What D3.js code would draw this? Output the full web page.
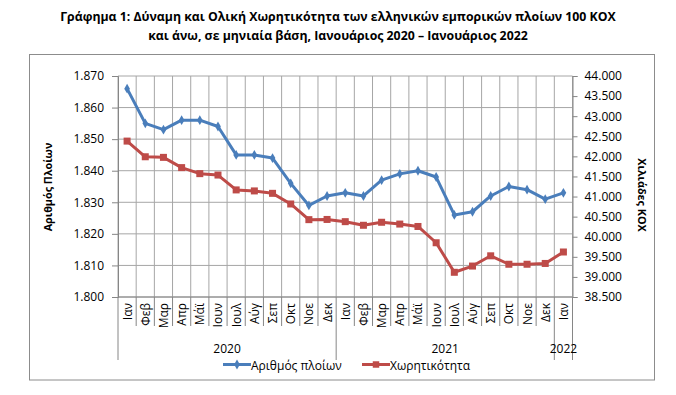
<!DOCTYPE html>
<html>
<head>
<meta charset="utf-8">
<script src="https://cdn.jsdelivr.net/npm/d3@7"></script>
<style>
  body { margin: 0; background: #fff; }
  text { font-family: "Open Sans", "Noto Sans", sans-serif; fill: #000; }
</style>
</head>
<body>
<script>
// months, two years + Jan 2022
const months = ["Ιαν","Φεβ","Μαρ","Απρ","Μάϊ","Ιουν","Ιουλ","Αύγ","Σεπ","Οκτ","Νοε","Δεκ",
                "Ιαν","Φεβ","Μαρ","Απρ","Μάϊ","Ιουν","Ιουλ","Αύγ","Σεπ","Οκτ","Νοε","Δεκ","Ιαν"]
const years = [{y:"2020", from:0, to:12}, {y:"2021", from:12, to:24}, {y:"2022", from:24, to:25}]

// Αριθμός πλοίων (left axis)
const ships = [1866,1855,1853,1856,1856,1854,1845,1845,1844,1836,1829,1832,
               1833,1832,1837,1839,1840,1838,1826,1827,1832,1835,1834,1831,1833]
// Χωρητικότητα, χιλιάδες ΚΟΧ (right axis)
const tonnage = [42380,41990,41975,41720,41570,41535,41165,41140,41080,40815,40425,40430,
                 40375,40285,40360,40315,40255,39850,39115,39270,39525,39315,39315,39335,39620]

const leftTicks = d3.range(1800, 1871, 10)
const rightTicks = d3.range(38500, 44001, 500)

const W = 676, H = 395
const L = 118, R = 572.5, T = 76, B = 297
const blue = "#4A7EBB", red = "#BE4B48", grid = "#A6A6A6", axisCol = "#868686"

const loc = d3.formatLocale({decimal: ",", thousands: ".", grouping: [3], currency: ["", "€"]})
const fmt = loc.format(",d")

const svg = d3.select("body").append("svg").attr("width", W).attr("height", H)

// title
const title = svg.append("text").attr("text-anchor", "middle")
  .style("font-weight", "bold").style("font-size", "12.3px")
title.append("tspan").attr("x", 338).attr("y", 21)
  .text("Γράφημα 1: Δύναμη και Ολική Χωρητικότητα των ελληνικών εμπορικών πλοίων 100 ΚΟΧ")
title.append("tspan").attr("x", 338).attr("y", 40)
  .text("και άνω, σε μηνιαία βάση, Ιανουάριος 2020 – Ιανουάριος 2022")

// frame
svg.append("rect").attr("x", 29.5).attr("y", 54.5).attr("width", 625).attr("height", 325.5)
  .attr("fill", "none").attr("stroke", "#8C8C8C")

const x = d3.scaleBand().domain(d3.range(months.length)).range([L, R]).padding(0)
const bw = x.bandwidth()
const cx = i => x(i) + bw / 2
const yL = d3.scaleLinear().domain([1800, 1870]).range([B, T])
const yR = d3.scaleLinear().domain([38500, 44000]).range([B, T])

// horizontal grid
svg.append("g").selectAll("line").data(leftTicks).join("line")
  .attr("x1", L).attr("x2", R).attr("y1", d => yL(d)).attr("y2", d => yL(d))
  .attr("stroke", grid)

// vertical grid (category boundaries)
const bounds = d3.range(months.length + 1).map(i => i < months.length ? x(i) : R)
svg.append("g").selectAll("line").data(bounds).join("line")
  .attr("x1", d => d).attr("x2", d => d).attr("y1", T).attr("y2", B)
  .attr("stroke", grid)

// left axis
const gL = svg.append("g").attr("transform", `translate(${L},0)`)
  .call(d3.axisLeft(yL).tickValues(leftTicks).tickFormat(fmt).tickSize(6).tickPadding(8))
gL.select(".domain").attr("stroke", axisCol)
gL.selectAll(".tick line").attr("stroke", axisCol)
gL.selectAll("text").style("font-size", "12px").attr("fill", "#000")
  .style("font-family", "'Open Sans', sans-serif")

// right axis
const gR = svg.append("g").attr("transform", `translate(${R},0)`)
  .call(d3.axisRight(yR).tickValues(rightTicks).tickFormat(fmt).tickSize(5).tickPadding(7))
gR.select(".domain").attr("stroke", axisCol)
gR.selectAll(".tick line").attr("stroke", axisCol)
gR.selectAll("text").style("font-size", "12px").attr("fill", "#000")
  .style("font-family", "'Open Sans', sans-serif")

// category axis: month separators, year separators
svg.append("line").attr("x1", L).attr("x2", R).attr("y1", B).attr("y2", B).attr("stroke", axisCol)
const yearBounds = new Set(years.flatMap(d => [d.from, d.to]))
svg.append("g").selectAll("line").data(d3.range(months.length + 1)).join("line")
  .attr("x1", i => bounds[i]).attr("x2", i => bounds[i])
  .attr("y1", B).attr("y2", i => yearBounds.has(i) ? 360 : 326)
  .attr("stroke", axisCol)

svg.append("g").selectAll("text").data(months).join("text")
  .attr("transform", (d, i) => `translate(${cx(i) + 4.5},303) rotate(-90)`)
  .attr("text-anchor", "end").style("font-size", "12px").text(d => d)

svg.append("g").selectAll("text").data(years).join("text")
  .attr("x", d => (bounds[d.from] + bounds[d.to]) / 2).attr("y", 353)
  .attr("text-anchor", "middle").style("font-size", "12px").text(d => d.y)

// axis titles
svg.append("text").attr("transform", "translate(52,187) rotate(-90)")
  .attr("text-anchor", "middle").style("font-weight", "bold").style("font-size", "10.8px")
  .text("Αριθμός Πλοίων")
svg.append("text").attr("transform", "translate(638,195) rotate(90)")
  .attr("text-anchor", "middle").style("font-weight", "bold").style("font-size", "10.8px")
  .text("Χιλιάδες ΚΟΧ")

// series
const lineL = d3.line().x((d, i) => cx(i)).y(d => yL(d))
const lineR = d3.line().x((d, i) => cx(i)).y(d => yR(d))

svg.append("path").datum(tonnage).attr("d", lineR).attr("fill", "none")
  .attr("stroke", red).attr("stroke-width", 3).attr("stroke-linejoin", "round")
svg.append("g").selectAll("rect").data(tonnage).join("rect")
  .attr("x", (d, i) => cx(i) - 3.5).attr("y", d => yR(d) - 3.5)
  .attr("width", 7).attr("height", 7).attr("fill", red)

svg.append("path").datum(ships).attr("d", lineL).attr("fill", "none")
  .attr("stroke", blue).attr("stroke-width", 3).attr("stroke-linejoin", "round")
const diamond = d3.symbol().type(d3.symbolDiamond).size(28)
svg.append("g").selectAll("path").data(ships).join("path")
  .attr("transform", (d, i) => `translate(${cx(i)},${yL(d)})`)
  .attr("d", diamond).attr("fill", blue)

// legend
const legend = [{name: "Αριθμός πλοίων", col: blue, x: 223, sym: "d"},
                {name: "Χωρητικότητα", col: red, x: 362, sym: "s"}]
const lg = svg.append("g").selectAll("g").data(legend).join("g")
  .attr("transform", d => `translate(${d.x},364.5)`)
lg.append("line").attr("x1", 0).attr("x2", 28).attr("stroke", d => d.col).attr("stroke-width", 3)
lg.append("path").attr("transform", "translate(14,0)")
  .attr("d", d => d.sym === "d" ? diamond() : d3.symbol().type(d3.symbolSquare).size(42)())
  .attr("fill", d => d.col)
lg.append("text").attr("x", 28).attr("y", 5).style("font-size", "12px").text(d => d.name)
</script>
</body>
</html>
